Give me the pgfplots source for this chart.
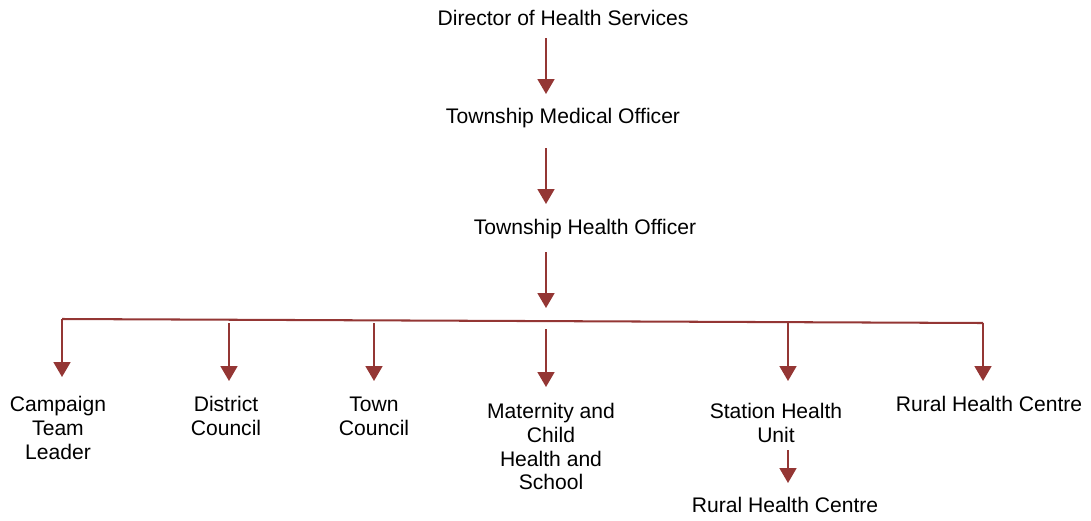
\documentclass[border=0pt]{standalone}
\usepackage{fontspec}
\setmainfont{Liberation Sans}
\usepackage{pgfplots}
\pgfplotsset{compat=1.18}
\usetikzlibrary{arrows.meta}
\definecolor{linkred}{HTML}{943634}
\begin{document}
\begin{tikzpicture}[lab/.style={font=\fontsize{8.8}{10}\selectfont, align=center, inner sep=0pt}]
\begin{axis}[
    hide axis, scale only axis, clip=false,
    width=16cm, height=7.626cm,
    xmin=0, xmax=1091, ymin=0, ymax=520, y dir=reverse,
  ]
  \addplot[draw=none] coordinates {(0,0) (1091,520)};
  \pgfplotsset{arr/.style={linkred, line width=0.85pt, -{Triangle[width=7pt,length=6.2pt]}}}
  % main chain
  \addplot[arr] coordinates {(546,38) (546,94)};
  \addplot[arr] coordinates {(546,148) (546,204)};
  \addplot[arr] coordinates {(546,252) (546,308)};
  % horizontal bar with the outer drops
  \addplot[linkred, line width=0.85pt] coordinates {(62,319) (983,323)};
  \addplot[arr] coordinates {(62,319) (62,377)};
  \addplot[arr] coordinates {(983,323) (983,381)};
  \addplot[arr] coordinates {(229,323) (229,381)};
  \addplot[arr] coordinates {(374,323) (374,381)};
  \addplot[arr] coordinates {(546,329) (546,387)};
  \addplot[arr] coordinates {(788,322) (788,381)};
  \addplot[arr] coordinates {(788,450) (788,483)};
  % labels
  \node[lab] at (axis cs:563,18) {Director of Health Services};
  \node[lab] at (axis cs:563,118) {Township Medical Officer};
  \node[lab] at (axis cs:585,229) {Township Health Officer};
  \node[lab] at (axis cs:58,428) {Campaign\\Team\\Leader};
  \node[lab] at (axis cs:226,416) {District\\Council};
  \node[lab] at (axis cs:374,416) {Town\\Council};
  \node[lab] at (axis cs:551,446.5) {Maternity and\\Child\\Health and\\School};
  \node[lab] at (axis cs:776,422.5) {Station Health\\Unit};
  \node[lab] at (axis cs:989,404) {Rural Health Centre};
  \node[lab] at (axis cs:785,505) {Rural Health Centre};
\end{axis}
\end{tikzpicture}
\end{document}
